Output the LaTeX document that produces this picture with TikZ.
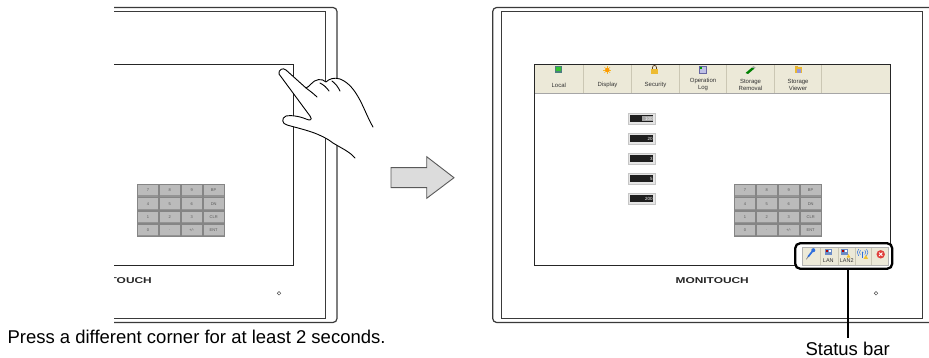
\documentclass[tikz,border=0pt]{standalone}
\usepackage{fontspec}
\usepackage{graphicx}
\setmainfont{Liberation Sans}
\definecolor{framegray}{HTML}{3A3A3A}
\definecolor{keyface}{HTML}{BBBBBB}
\definecolor{keyedge}{HTML}{858585}
\definecolor{tbbeige}{HTML}{ECE9D8}
\definecolor{tbsep}{HTML}{CBC7B4}
\definecolor{arrowfill}{HTML}{DCDCDC}
\definecolor{pinblue}{HTML}{2F6FDE}
\definecolor{lanblue}{HTML}{6C8CC6}
\definecolor{warnyellow}{HTML}{F2C230}
\definecolor{closered}{HTML}{E0403C}

\tikzset{
  outerframe/.style={draw=framegray, line width=1.2pt, rounded corners=4pt},
  innerframe/.style={draw=framegray, line width=0.9pt},
  screenline/.style={draw=black!85, line width=0.9pt},
  keycap/.style={rectangle, minimum width=21pt, minimum height=12.4pt, inner sep=0pt,
    fill=keyface, draw=keyedge, line width=0.5pt, text=black!65,
    font=\fontsize{4}{4}\selectfont,
    path picture={\fill[black!42] ([yshift=1.3pt]path picture bounding box.south west)
      rectangle (path picture bounding box.south east);}},
  logo/.style={inner sep=0pt, font=\bfseries\fontsize{8.5}{8.5}\selectfont, text=black!85},
  lamp/.style={circle, draw=black!70, line width=0.5pt, minimum size=3.6pt, inner sep=0pt},
  tblabel/.style={inner sep=0pt, align=center, font=\fontsize{6}{7}\selectfont, text=black!80},
  disp/.style={rectangle, minimum width=26.7pt, minimum height=10.6pt, inner sep=0pt,
    fill=black!10, draw=black!22, line width=0.4pt, text=white, align=right, text width=22pt,
    font=\fontsize{4.5}{4.5}\selectfont,
    path picture={\fill[black!88] ([shift={(1.6pt,-1.6pt)}]path picture bounding box.north west)
      rectangle ([shift={(-1.6pt,1.6pt)}]path picture bounding box.south east);}},
  dispsel/.style={disp,
    path picture={\fill[black!88] ([shift={(1.6pt,-1.6pt)}]path picture bounding box.north west)
      rectangle ([shift={(-1.6pt,1.6pt)}]path picture bounding box.south east);
      \fill[black!35] ([shift={(-13pt,-2.4pt)}]path picture bounding box.north east)
      rectangle ([shift={(-2.2pt,2.4pt)}]path picture bounding box.south east);}},
  caption/.style={inner sep=0pt, font=\fontsize{18.5}{20}\selectfont, text=black},
  tinylab/.style={inner sep=0pt, font=\fontsize{5.5}{5.5}\selectfont, text=black!80},
  handline/.style={draw=black, line width=0.9pt, line cap=round, line join=round},
}

% Panel housing, screen outline, numeric keypad, logo and lamp
\newcommand{\drawpanel}[1]{%
  \draw[outerframe] (492.7,7.5) rectangle (934,322.5);
  \draw[innerframe] (501.7,11.7) rectangle (922.7,318.3);
  \draw[screenline] (534.3,64.3) rectangle (890.3,265.7);
  \foreach \lab [count=\i from 0] in {7,8,9,BP,4,5,6,DN,1,2,3,CLR,0,.,+/-,ENT} {
    \pgfmathtruncatemacro{\col}{mod(\i,4)}
    \pgfmathtruncatemacro{\row}{div(\i,4)}
    \node[keycap] (#1key\i) at ({734+21.9*(\col+0.5)},{184+13.2*(\row+0.5)}) {\lab};
  }
  \node[logo] (#1logo) at (712.2,281) {\scalebox{1.4}[1]{MONITOUCH}};
  \node[lamp] (#1lamp) at (876,293.3) {};
}

\begin{document}
\begin{tikzpicture}[x=1pt,y=-1pt]
\useasboundingbox (0,0) rectangle (929,358);

% ---- left terminal (partly shown) ----
\begin{scope}
  \clip (114,0) rectangle (460,330);
  \begin{scope}[xshift=-597pt]
    \drawpanel{L}
  \end{scope}
\end{scope}

% hand pressing the upper right corner
\fill[white] (373,127) .. controls (364,112) and (358,86) .. (340,79)
  .. controls (334,77) and (329,79) .. (326,82)
  .. controls (322,78) and (315,79) .. (311,84)
  .. controls (309,86) and (307,88) .. (306,88)
  -- (286,70) .. controls (283,67) and (278,70) .. (279,74)
  -- (310,116) .. controls (313,120) and (310,121) .. (306,119)
  .. controls (299,116) and (290,115) .. (286,116)
  .. controls (281,118) and (282,124) .. (287,125)
  .. controls (305,130) and (320,133) .. (333,143)
  .. controls (343,149) and (350,152) .. (355,158)
  -- (385,150) -- cycle;
\draw[handline] (373,127) .. controls (364,112) and (358,86) .. (340,79)
  .. controls (334,77) and (329,79) .. (326,82)
  .. controls (322,78) and (315,79) .. (311,84)
  .. controls (309,86) and (307,88) .. (306,88)
  -- (286,70) .. controls (283,67) and (278,70) .. (279,74)
  -- (310,116) .. controls (313,120) and (310,121) .. (306,119)
  .. controls (299,116) and (290,115) .. (286,116)
  .. controls (281,118) and (282,124) .. (287,125)
  .. controls (305,130) and (320,133) .. (333,143)
  .. controls (343,149) and (350,152) .. (355,158);
\draw[handline] (306,88) .. controls (310,91) and (314,94) .. (317,97);
\draw[handline] (320,83) .. controls (324,85) and (327,88) .. (329,91);
\draw[handline] (332,81) .. controls (336,84) and (338,87) .. (340,91);

\node[caption, anchor=base west] (capL) at (7.3,343) {Press a different corner for at least 2 seconds.};

% ---- transition arrow ----
\draw[fill=arrowfill, draw=black!65, line width=0.9pt, line join=miter]
  (391,167.7) -- (426.7,167.7) -- (426.7,156.7) -- (454,177.7)
  -- (426.7,198.3) -- (426.7,187.7) -- (391,187.7) -- cycle;

% ---- right terminal ----
\fill[tbbeige] (534.3,64.3) rectangle (890.3,93.3);
\foreach \sx in {583.3,631.7,679.3,726.7,774.3,821.7}
  \draw[tbsep, line width=0.6pt] (\sx,64.8) -- (\sx,93);
\draw[black!35, line width=0.5pt] (534.3,93.3) -- (890.3,93.3);
\drawpanel{R}

% toolbar icons
\fill[black!45!teal!70] (555,66.3) rectangle (562,73.3);
\fill[green!70!black!80] (556.3,67.5) rectangle (560.7,71.5);
\foreach \a in {0,45,...,315}
  \draw[warnyellow!80!orange, line width=0.6pt] (607.3,70) -- ++(\a:4);
\fill[orange!80!yellow] (607.3,70) circle (2.2);
\draw[black!50!brown, line width=0.7pt] (652.5,69) -- (652.5,67.5)
  .. controls (652.5,64.8) and (656.5,64.8) .. (656.5,67.5) -- (656.5,69);
\fill[warnyellow!90!brown] (651.3,69) rectangle (657.7,74.2);
\fill[cyan!25!blue!25] (699,66.5) rectangle (706.5,73);
\draw[blue!40!black!60, line width=0.4pt] (699,66.5) rectangle (706.5,73);
\fill[green!60!black] (700,67.5) rectangle (702.2,69.3);
\fill[green!50!black] (745.5,73) -- (752,67.5) -- (754.5,68.5) -- (748,74) -- cycle;
\fill[black!35] (752,67.5) -- (754.5,68.5) -- (755.7,67.2) -- (753.2,66.2) -- cycle;
\fill[warnyellow!85!brown] (794.5,67) rectangle (802,73.5);
\fill[warnyellow!70!brown] (794.5,65.8) rectangle (798,67.5);
\fill[black!35!blue!40] (797,69.5) rectangle (801,73);

% toolbar labels
\node[tblabel] (tLocal) at (558.8,85) {Local};
\node[tblabel] (tDisplay) at (607.5,85) {Display};
\node[tblabel] (tSecurity) at (655.5,85) {Security};
\node[tblabel] (tOplog) at (703,84.6) {Operation\\Log};
\node[tblabel] (tRemoval) at (750.5,84.6) {Storage\\Removal};
\node[tblabel] (tViewer) at (798,84.6) {Storage\\Viewer};

% numeric displays
\node[dispsel] (disp1) at (641.7,118.5) {100};
\node[disp] (disp2) at (641.7,138.5) {20};
\node[disp] (disp3) at (641.7,158.5) {3};
\node[disp] (disp4) at (641.7,178.5) {5};
\node[disp] (disp5) at (641.7,198.8) {200};

% status bar callout
\node[draw=black, line width=2.3pt, rounded corners=5pt, fill=white,
      minimum width=97pt, minimum height=25.5pt, inner sep=0pt] (sbar) at (843.7,256) {};
\fill[tbbeige] (801.7,247.3) rectangle (888.3,265);
\draw[black!30, line width=0.4pt] (801.7,247.3) rectangle (888.3,265);
\foreach \sx in {820,838.3,855,871.7}
  \draw[tbsep, line width=0.6pt] (\sx,247.6) -- (\sx,264.7);
% pin
\draw[pinblue, line width=1.7pt, line cap=round] (808.3,256.5) -- (812.4,251.3);
\fill[pinblue] (813.3,250.2) circle (2);
\draw[black!60, line width=0.5pt] (808.3,256.5) -- (806.3,259.3);
% LAN
\fill[lanblue] (825.2,249.2) rectangle (831.6,255);
\fill[red!70!black] (826.2,250.2) rectangle (828.2,252);
\fill[white] (828.8,250.2) rectangle (830.7,252);
\node[tinylab] (lanA) at (828.3,261) {LAN};
% LAN2
\fill[lanblue] (841.2,249.2) rectangle (847.6,255);
\fill[red!70!black] (842.2,250.2) rectangle (844.2,252);
\fill[white] (844.8,250.2) rectangle (846.7,252);
\fill[warnyellow] (846.5,257.6) -- (848.5,254) -- (850.5,257.6) -- cycle;
\node[tinylab] (lanB) at (846.7,261) {LAN2};
% wireless
\fill[pinblue] (862.6,252.4) circle (0.8);
\draw[pinblue, line width=0.5pt] (860.4,250.2) .. controls (859.2,251.6) and (859.2,253.2) .. (860.4,254.6);
\draw[pinblue, line width=0.5pt] (864.8,250.2) .. controls (866,251.6) and (866,253.2) .. (864.8,254.6);
\draw[pinblue, line width=0.5pt] (858.7,249) .. controls (856.8,251.2) and (856.8,253.6) .. (858.7,255.8);
\draw[pinblue, line width=0.5pt] (866.5,249) .. controls (868.4,251.2) and (868.4,253.6) .. (866.5,255.8);
\draw[pinblue, line width=0.5pt] (862.6,253) -- (862.6,258);
\fill[warnyellow] (863.6,258.8) -- (865.8,255) -- (868,258.8) -- cycle;
% close
\fill[closered] (880.7,254.3) circle (4.2);
\draw[white, line width=0.9pt] (879,252.6) -- (882.4,256) (879,256) -- (882.4,252.6);

\coordinate (stemend) at (847.7,337.5);
\draw[black, line width=1.9pt] (stemend |- sbar.south) -- (stemend);
\node[caption, anchor=base] (capR) at (847.7,355) {Status bar};
\end{tikzpicture}
\end{document}
